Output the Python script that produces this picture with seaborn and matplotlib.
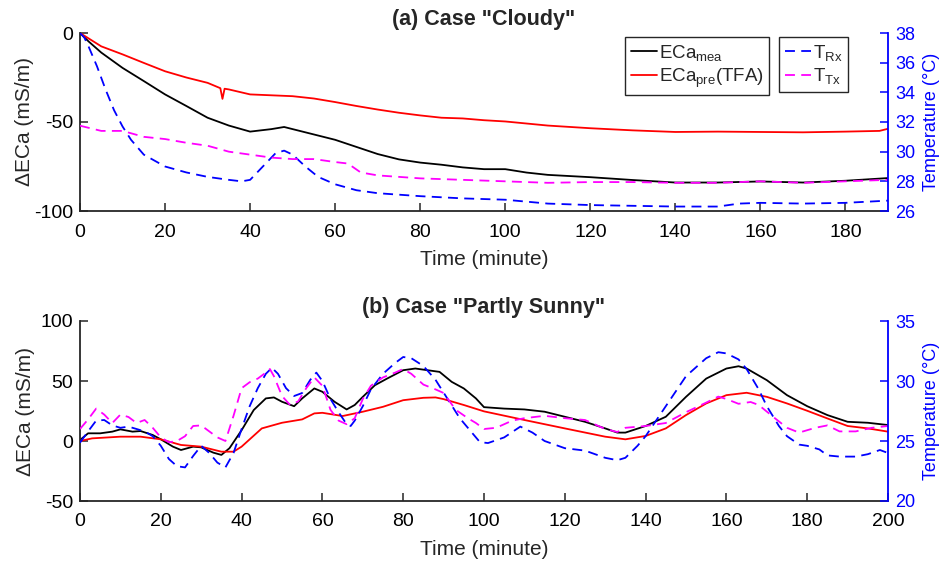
import numpy as np
import pandas as pd
import matplotlib
matplotlib.use("Agg")
import matplotlib.pyplot as plt
import seaborn as sns

# ---------------- data: (a) Case "Cloudy" ----------------
a_eca_t = [0, 2, 5, 10, 15, 20, 25, 30, 35, 40, 45, 48, 50, 55, 60, 65, 70, 75, 80, 85, 90, 95, 100,
           105, 110, 120, 130, 140, 150, 160, 170, 180, 190]
a_eca_mea = [0, -4.7, -11, -19.6, -27, -34.5, -41, -47.6, -52, -55.4, -54, -52.8, -54, -57, -60, -64, -68,
             -71, -72.8, -74, -75.5, -76.5, -76.5, -78.4, -79.7, -81, -82.6, -84, -84, -83.4, -84, -83, -81.5]
a_pre_t = [0, 5, 10, 15, 20, 25, 30, 33, 33.5, 34, 35, 40, 45, 50, 55, 60, 65, 70, 75, 80, 85, 90, 95, 100,
           110, 120, 130, 140, 150, 160, 170, 180, 188, 190]
a_eca_pre = [0, -7.5, -12, -16.8, -21.5, -25, -28, -31, -37, -31.3, -31.7, -34.5, -35, -35.5, -36.8, -38.8,
             -41, -43, -44.8, -46.3, -47.6, -48, -49, -49.7, -52, -53.5, -54.7, -55.6, -55.4, -55.6, -55.8,
             -55.4, -55, -53.8]
a_trx_t = [0, 1, 2, 4, 6, 8, 10, 12, 15, 20, 25, 30, 35, 38, 40, 43, 46, 48, 50, 53, 56, 60, 65, 70, 80, 90,
           100, 110, 120, 130, 140, 150, 155, 160, 170, 180, 190]
a_trx = [38, 37.7, 37.1, 35.75, 34.2, 32.8, 31.7, 30.8, 29.8, 29.0, 28.6, 28.3, 28.1, 28.0, 28.1, 29.0, 29.9,
         30.07, 29.8, 29.0, 28.3, 27.8, 27.4, 27.2, 27.0, 26.85, 26.76, 26.5, 26.4, 26.35, 26.3, 26.3, 26.5,
         26.55, 26.5, 26.55, 26.7]
a_ttx_t = [0, 5, 10, 15, 20, 25, 30, 35, 40, 45, 50, 55, 60, 63, 66, 70, 80, 90, 100, 110, 120, 130, 140,
           150, 160, 170, 180, 190]
a_ttx = [31.75, 31.4, 31.4, 31.0, 30.85, 30.6, 30.4, 30.0, 29.8, 29.6, 29.5, 29.5, 29.3, 29.2, 28.6, 28.4,
         28.2, 28.1, 28.0, 27.9, 27.95, 27.95, 27.9, 27.9, 28.0, 27.9, 28.0, 28.1]

# ---------------- data: (b) Case "Partly Sunny" ----------------
b_mea_t = [0, 2, 5, 8, 10, 13, 15, 18, 20, 23, 25, 28, 30, 33, 35, 37, 40, 43, 46, 48, 50, 53, 55, 58, 60,
           63, 66, 68, 70, 73, 76, 80, 83, 86, 89, 92, 95, 98, 100, 105, 110, 115, 120, 125, 130, 133, 135,
           140, 145, 150, 155, 160, 163, 165, 170, 175, 180, 185, 190, 195, 200]
b_eca_mea = [0.8, 6.4, 6.4, 7.8, 9.7, 7.8, 8.3, 5, 1.4, -4.7, -7.5, -4.7, -5.3, -9.7, -11.6, -6, 9, 25.8,
             35.5, 36.3, 32.7, 29, 35.5, 43.8, 41, 32.7, 26.3, 30, 36.8, 46.5, 52, 59, 60.4, 59, 57.6, 49.3,
             43.8, 35.5, 28.2, 27, 26.3, 24.4, 20.2, 16, 10.5, 7, 7, 12.5, 20.2, 36.8, 52, 60.4, 62.3, 60.4,
             50.7, 38.2, 29, 21.6, 16, 15.2, 13.3]
b_pre_t = [0, 3, 10, 15, 20, 25, 30, 35, 38, 40, 45, 50, 55, 58, 60, 65, 70, 75, 80, 85, 88, 90, 95, 100,
           110, 120, 130, 135, 140, 145, 150, 155, 160, 165, 170, 175, 180, 185, 190, 195, 200]
b_eca_pre = [0, 2.2, 3.6, 3.6, 1.4, -3.3, -4.7, -8.9, -8.9, -4.7, 10.5, 15.2, 18, 23, 23.5, 20.8, 24.4,
             28.5, 34, 36, 36.3, 34.9, 30, 24.7, 17.5, 10.5, 3.6, 1.4, 4.2, 10.5, 21.6, 31.3, 38.2, 40.2,
             36.8, 31.3, 25.2, 18.8, 12.5, 10.5, 7.8]
b_trx_t = [0, 2, 4, 6, 8, 10, 12, 14, 16, 18, 20, 22, 24, 26, 28, 30, 32, 34, 36, 38, 40, 42, 44, 46, 47.5,
           49, 51, 53, 55, 57, 58.5, 60, 62, 64, 66, 67, 68, 70, 72, 75, 78, 80, 82, 85, 88, 91, 94, 97, 99,
           101, 105, 109, 112, 115, 120, 125, 130, 133, 135, 138, 140, 145, 150, 155, 158, 160, 163, 165,
           168, 170, 173, 175, 178, 180, 183, 185, 188, 192, 195, 198, 200]
b_trx = [24.86, 25.8, 26.7, 26.75, 26.3, 26.1, 26.2, 26.0, 25.8, 25.4, 24.6, 23.5, 22.9, 22.8, 23.75, 24.6,
         24.0, 23.2, 22.8, 24.0, 26.0, 27.9, 29.4, 30.6, 31.1, 30.6, 29.4, 28.75, 29.0, 30.1, 30.7, 30.0,
         28.5, 27.4, 26.4, 26.25, 26.7, 27.9, 29.3, 30.6, 31.5, 32.0, 31.9, 31.25, 30.1, 28.5, 26.9, 25.7,
         24.9, 24.83, 25.3, 26.2, 25.7, 25.0, 24.4, 24.2, 23.6, 23.4, 23.6, 24.6, 25.4, 27.9, 30.4, 31.9,
         32.4, 32.3, 31.8, 31.0, 29.3, 27.9, 26.25, 25.4, 24.7, 24.6, 24.3, 23.8, 23.7, 23.7, 23.9, 24.25,
         24.0]
b_ttx_t = [0, 2, 4, 6, 8, 10, 12, 14, 16, 18, 20, 22, 24, 26, 28, 30, 32, 34, 36, 38, 40, 42, 44, 46, 47,
           48, 50, 52, 54, 56, 58, 60, 62, 64, 66, 68, 70, 72, 75, 78, 80, 82, 85, 88, 90, 93, 96, 98, 100,
           103, 107, 110, 115, 120, 125, 130, 133, 135, 140, 145, 150, 155, 158, 160, 163, 166, 168, 172,
           175, 178, 182, 185, 188, 192, 196, 200]
b_ttx = [26.0, 26.8, 27.7, 27.2, 26.5, 27.2, 27.0, 26.5, 26.75, 26.1, 25.3, 24.9, 25.0, 25.4, 26.25, 26.3,
         25.8, 25.3, 25.0, 27.1, 29.4, 29.9, 30.2, 30.7, 31.0, 30.4, 28.75, 28.0, 28.3, 29.4, 30.3, 29.6,
         27.6, 26.7, 26.4, 26.9, 28.5, 29.6, 30.3, 30.7, 31.0, 30.6, 29.7, 29.3, 29.0, 27.6, 26.9, 26.5,
         26.0, 26.1, 26.7, 26.9, 27.1, 26.9, 26.75, 26.0, 25.75, 26.1, 26.25, 26.5, 27.4, 28.2, 28.7, 28.5,
         28.1, 28.25, 28.0, 26.9, 26.1, 25.7, 26.1, 26.3, 25.8, 25.8, 26.1, 26.25]

a_xticks = list(range(0, 181, 20))
a_lticks = [-100, -50, 0]
a_rticks = [26, 28, 30, 32, 34, 36, 38]
b_xticks = list(range(0, 201, 20))
b_lticks = [-50, 0, 50, 100]
b_rticks = [20, 25, 30, 35]

sns.set_style("ticks")
plt.rcParams['font.family'] = ['Liberation Sans', 'DejaVu Sans']
plt.rcParams['mathtext.fontset'] = 'custom'
plt.rcParams['mathtext.rm'] = 'Liberation Sans'
plt.rcParams['mathtext.it'] = 'Liberation Sans:italic'
plt.rcParams['mathtext.bf'] = 'Liberation Sans:bold'
plt.rcParams['axes.unicode_minus'] = False

TICK_FS = 14
RTICK_FS = 13
LABEL_FS = 15
RLABEL_FS = 13
TITLE_FS = 15.5
LEG_FS = 13.5
BLUE = '#0000FF'
RED = '#FF0000'
MAG = '#FF00FF'
DASH = (0, (5.5, 3.5))
LW = 1.3
DARK = '#262626'

fig = plt.figure(figsize=(9.44, 5.63), dpi=100)
axA = fig.add_axes([80/944, 1-211/563, 808/944, 178/563])
axB = fig.add_axes([80/944, 1-501/563, 808/944, 180/563])


def style_axes(ax, ax2, xlim, xticks, ylim, lticks, rlim, rticks, title, ylpad):
    ax.set_xlim(*xlim)
    ax.set_ylim(*ylim)
    ax2.set_ylim(*rlim)
    ax.set_xticks(xticks)
    ax.set_yticks(lticks)
    ax2.set_yticks(rticks)
    ax.tick_params(axis='both', direction='in', length=6, width=1.1, labelsize=TICK_FS, colors=DARK,
                   labelcolor='black')
    ax.tick_params(axis='x', pad=9)
    ax.tick_params(axis='y', pad=5)
    ax2.tick_params(axis='y', direction='in', length=6, width=1.1, labelsize=RTICK_FS, colors=BLUE, pad=5)
    for s in ['top', 'right']:
        ax.spines[s].set_visible(False)
    for s in ['top', 'left', 'bottom']:
        ax2.spines[s].set_visible(False)
    ax2.spines['right'].set_color(BLUE)
    ax2.spines['right'].set_linewidth(1.3)
    for s in ['left', 'bottom']:
        ax.spines[s].set_color(DARK)
        ax.spines[s].set_linewidth(1.3)
    ax.set_xlabel('Time (minute)', fontsize=LABEL_FS, labelpad=7)
    ax.set_ylabel('\u0394ECa (mS/m)', fontsize=LABEL_FS, labelpad=ylpad)
    ax2.set_ylabel('Temperature (\u00b0C)', fontsize=RLABEL_FS, color=BLUE, labelpad=6)
    ax.set_title(title, fontsize=TITLE_FS, fontweight='bold', pad=6)
    ax.grid(False)
    ax2.grid(False)


# ---- panel (a)
axA2 = axA.twinx()
sns.lineplot(x=a_eca_t, y=a_eca_mea, ax=axA, color='black', lw=LW, legend=False)
sns.lineplot(x=a_pre_t, y=a_eca_pre, ax=axA, color=RED, lw=LW, legend=False)
sns.lineplot(x=a_trx_t, y=a_trx, ax=axA2, color=BLUE, lw=LW, linestyle=DASH, legend=False)
sns.lineplot(x=a_ttx_t, y=a_ttx, ax=axA2, color=MAG, lw=LW, linestyle=DASH, legend=False)
style_axes(axA, axA2, (0, 190), a_xticks, (-100, 0), a_lticks, (26, 38), a_rticks, '(a) Case "Cloudy"', 0)

hA = axA.get_lines()
hB = axA2.get_lines()
leg_kw = dict(loc='upper left', bbox_transform=fig.transFigure, fontsize=LEG_FS, frameon=True,
              fancybox=False, edgecolor=DARK, framealpha=1, handlelength=1.4, handletextpad=0.1,
              borderpad=0.3, labelspacing=0.2, borderaxespad=0)
leg1 = axA2.legend(hA, ['ECa$_{\\mathrm{mea}}$', 'ECa$_{\\mathrm{pre}}$(TFA)'],
                   bbox_to_anchor=(625/944, 1-37/563), **leg_kw)
leg1.get_frame().set_linewidth(1.0)
axA2.add_artist(leg1)
leg2 = axA2.legend(hB, ['T$_{\\mathrm{Rx}}$', 'T$_{\\mathrm{Tx}}$'],
                   bbox_to_anchor=(779/944, 1-37/563), **leg_kw)
leg2.get_frame().set_linewidth(1.0)

# ---- panel (b)
axB2 = axB.twinx()
sns.lineplot(x=b_mea_t, y=b_eca_mea, ax=axB, color='black', lw=LW, legend=False)
sns.lineplot(x=b_pre_t, y=b_eca_pre, ax=axB, color=RED, lw=LW, legend=False)
sns.lineplot(x=b_trx_t, y=b_trx, ax=axB2, color=BLUE, lw=LW, linestyle=DASH, legend=False)
sns.lineplot(x=b_ttx_t, y=b_ttx, ax=axB2, color=MAG, lw=LW, linestyle=DASH, legend=False)
style_axes(axB, axB2, (0, 200), b_xticks, (-50, 100), b_lticks, (20, 35), b_rticks,
           '(b) Case "Partly Sunny"', 4)

fig.savefig('out.png', dpi=100)
